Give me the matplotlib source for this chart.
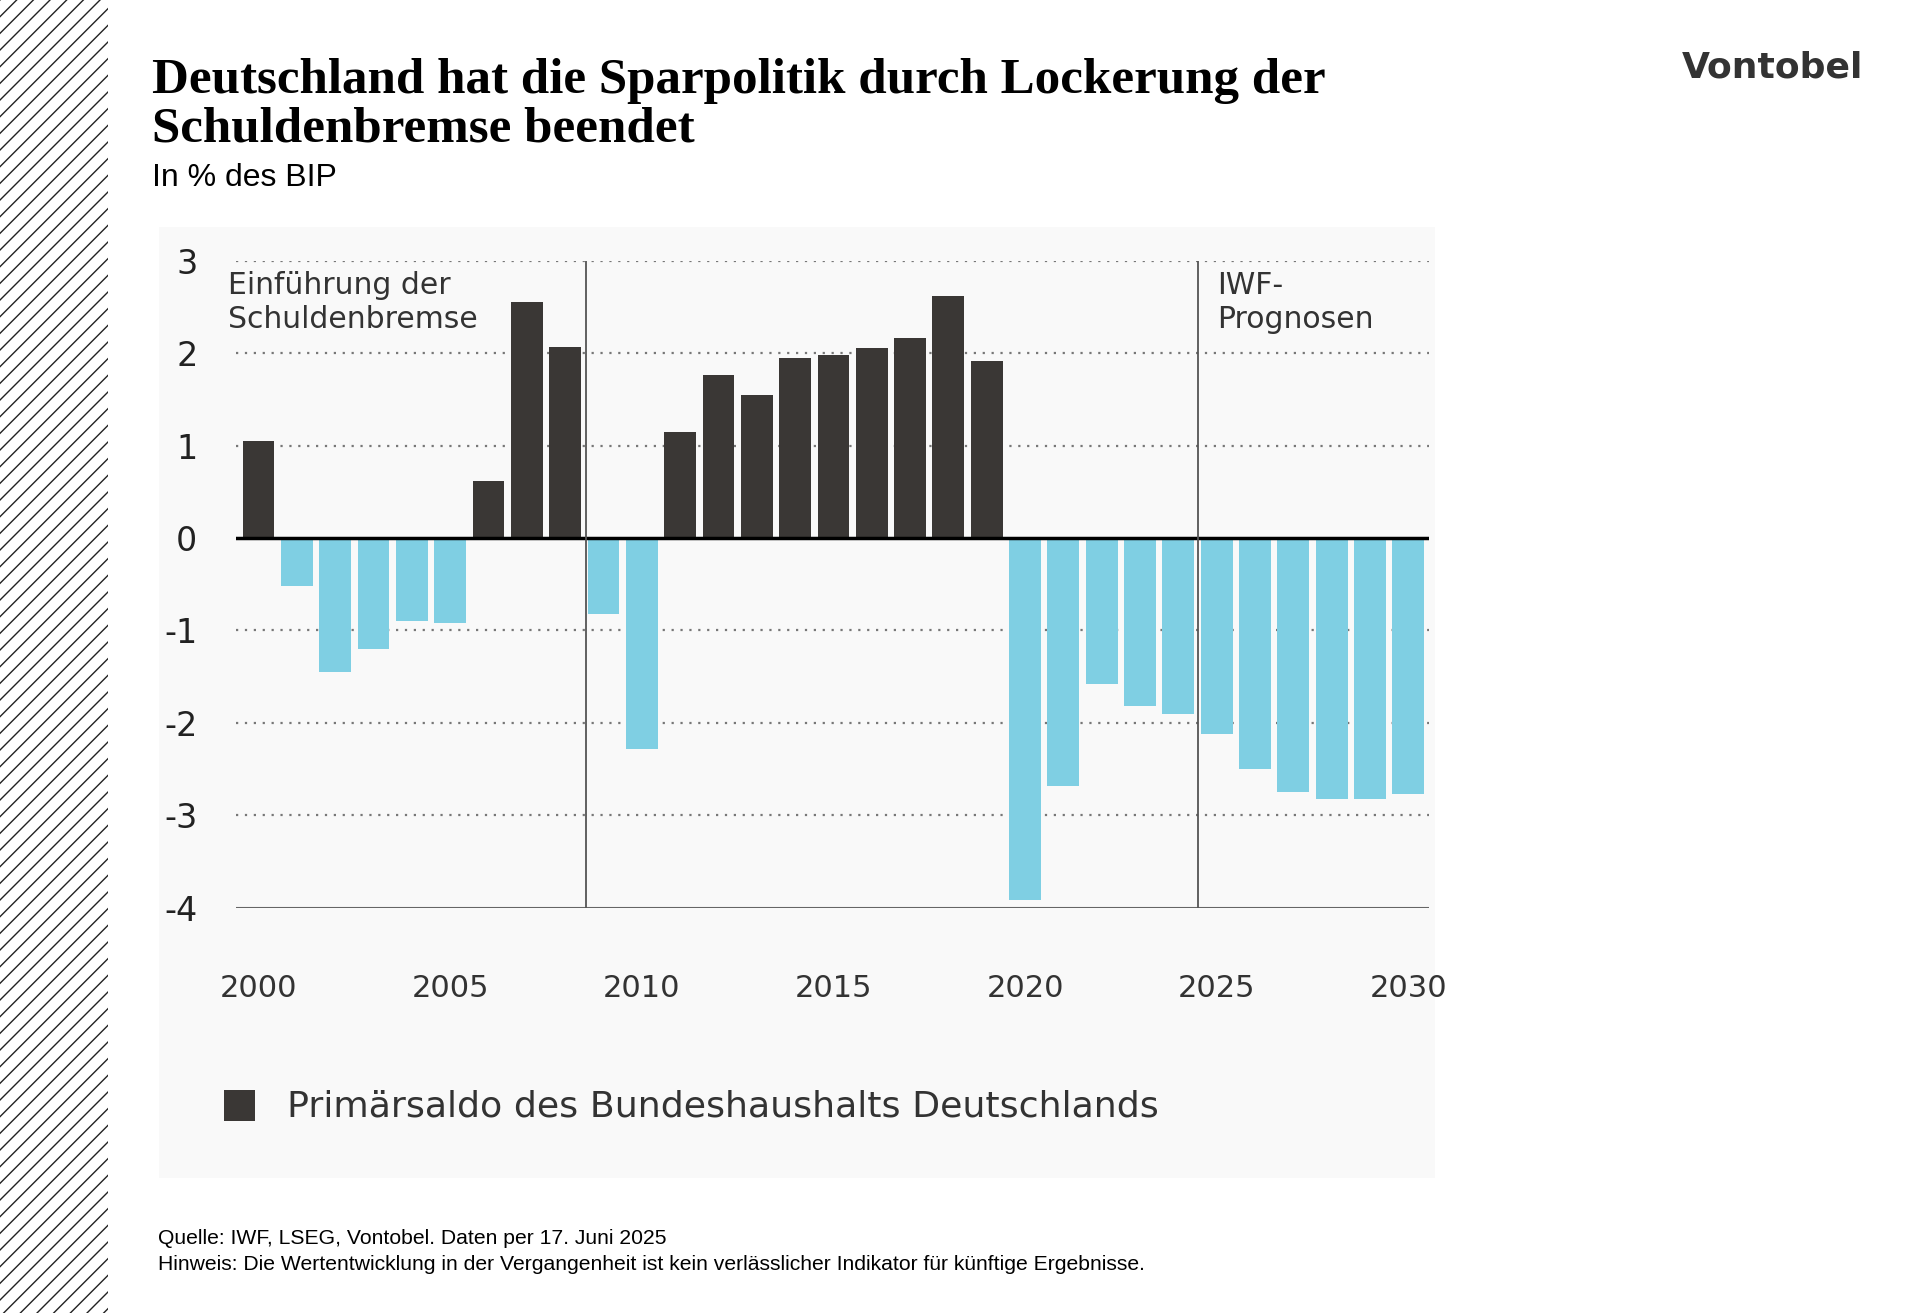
import matplotlib
matplotlib.use("Agg")
import matplotlib.pyplot as plt
from matplotlib.patches import Rectangle

years = list(range(2000, 2031))
values = [1.05, -0.52, -1.45, -1.2, -0.9, -0.92, 0.62, 2.55, 2.07, -0.82, -2.28,
          1.15, 1.77, 1.55, 1.95, 1.98, 2.06, 2.17, 2.62, 1.92, -3.92, -2.68,
          -1.58, -1.82, -1.9, -2.12, -2.5, -2.75, -2.82, -2.82, -2.77]
yticks = [3, 2, 1, 0, -1, -2, -3, -4]
xticks = [2000, 2005, 2010, 2015, 2020, 2025, 2030]
dark = "#3a3735"
blue = "#7fcfe3"

W, H = 1568, 1072
fig = plt.figure(figsize=(19.2, 13.13), dpi=100)
fx = lambda x: x / W
fy = lambda y: 1 - y / H

# hatched strip
fig.patches.append(Rectangle((0, 0), fx(88), 1, transform=fig.transFigure,
                             facecolor="white", edgecolor="#222222", hatch="//", lw=0, zorder=-5))
# panel background
fig.patches.append(Rectangle((fx(130), fy(962)), fx(1042), fy(185) - fy(962),
                             transform=fig.transFigure, facecolor="#f9f9f9", lw=0, zorder=-5))

ax = fig.add_axes([fx(193), fy(741), fx(1167) - fx(193), fy(213) - fy(741)])
ax.set_zorder(5)
ax.patch.set_alpha(0)
cols = [dark if v >= 0 else blue for v in values]
ax.bar(years, values, width=0.83, color=cols, zorder=2)
ax.set_xlim(1999.42, 2030.54)
ax.set_ylim(-4, 3)
for y in [3, 2, 1, -1, -2, -3]:
    ax.axhline(y, color="#777777", ls=(0, (1, 3)), lw=1.6, zorder=1)
ax.axhline(0, color="black", lw=2.5, zorder=3)
ax.axhline(-4, color="#666666", lw=1.5, zorder=3)
for x in [2008.55, 2024.5]:
    ax.axvline(x, color="#555555", lw=1.3, zorder=3)
for s in ax.spines.values():
    s.set_visible(False)
ax.set_yticks(yticks)
ax.set_yticklabels([str(t) for t in yticks], fontsize=24, color="#222222")
ax.set_xticks(xticks)
ax.set_xticklabels([str(t) for t in xticks], fontsize=22, color="#333333")
ax.tick_params(length=0)
ax.tick_params(axis="x", pad=48)
ax.tick_params(axis="y", pad=28)

ax.text(1999.2, 2.55, "Einführung der\nSchuldenbremse", fontsize=21.5, color="#333333",
        va="center", linespacing=1.2)
ax.text(2025.0, 2.55, "IWF-\nPrognosen", fontsize=21.5, color="#333333",
        va="center", linespacing=1.2)

# legend
fig.patches.append(Rectangle((fx(183), fy(915)), fx(25), fy(890) - fy(915),
                             transform=fig.transFigure, facecolor=dark, lw=0))
fig.text(fx(234), fy(903), "Primärsaldo des Bundeshaushalts Deutschlands", fontsize=26.2,
         color="#333333", va="center")

fig.text(fx(124), fy(86), "Deutschland hat die Sparpolitik durch Lockerung der\nSchuldenbremse beendet",
         fontsize=36.7, fontweight="bold", family="Liberation Serif", va="center",
         linespacing=1.05, color="black")
fig.text(fx(124), fy(145), "In % des BIP", fontsize=23, family="Liberation Sans", va="center")
fig.text(fx(1522), fy(55), "Vontobel", fontsize=26, fontweight="bold", ha="right",
         va="center", color="#333333")
fig.text(fx(129), fy(1011), "Quelle: IWF, LSEG, Vontobel. Daten per 17. Juni 2025",
         fontsize=15.2, family="Liberation Sans", va="center")
fig.text(fx(129), fy(1032),
         "Hinweis: Die Wertentwicklung in der Vergangenheit ist kein verlässlicher Indikator für künftige Ergebnisse.",
         fontsize=15.2, family="Liberation Sans", va="center")

fig.savefig("out.png", dpi=100)
